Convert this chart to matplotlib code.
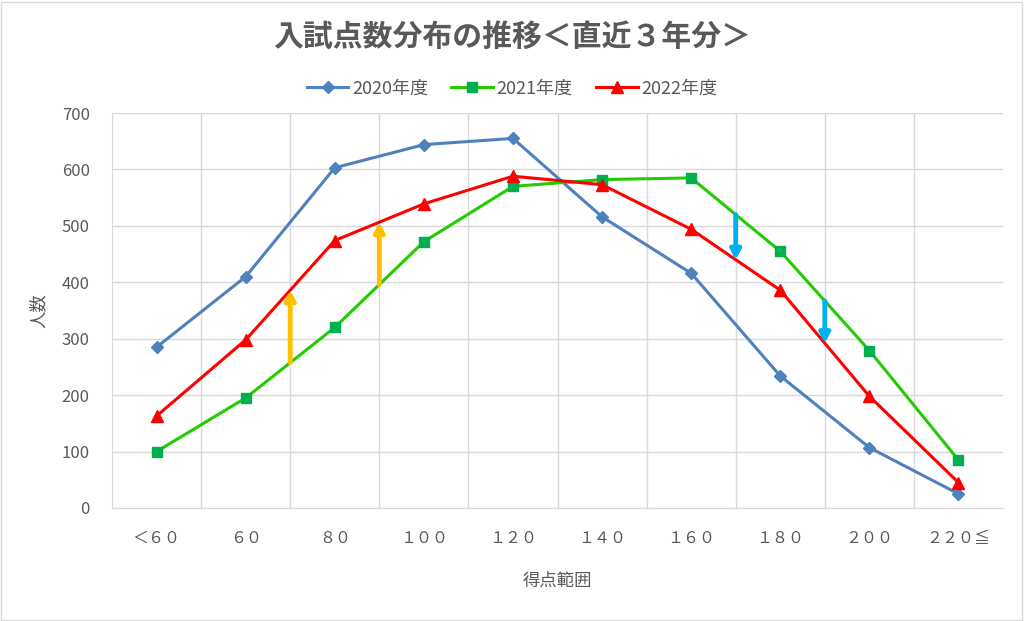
import numpy as np
import matplotlib.pyplot as plt
from matplotlib.patches import Rectangle

plt.rcParams['font.family'] = ['Noto Sans CJK JP', 'DejaVu Sans']

categories = ['＜６０', '６０', '８０', '１００', '１２０', '１４０', '１６０', '１８０', '２００', '２２０≦']
y2020 = [285, 410, 603, 644, 655, 516, 416, 234, 107, 25]
y2021 = [100, 195, 320, 472, 570, 582, 585, 455, 279, 85]
y2022 = [163, 298, 474, 539, 588, 573, 494, 386, 198, 45]

# arrows sit on the category boundaries (index i -> between i and i+1)
up_arrows = [1, 2]
down_arrows = [6, 7]

gray = '#595959'
x = np.arange(len(categories))

fig = plt.figure(figsize=(10.24, 6.21), dpi=100)
fig.patches.append(Rectangle((0.001, 0.002), 0.997, 0.995, transform=fig.transFigure,
                             fill=False, edgecolor='#d9d9d9', linewidth=1))
ax = fig.add_axes([0.1094, 0.182, 0.8701, 0.636])

ax.plot(x, y2020, color='#4f81bd', lw=2.2, marker='D', ms=6, label='2020年度', zorder=3)
ax.plot(x, y2021, color='#22cc00', lw=2.2, marker='s', ms=7, mfc='#00b050', mec='#00b050',
        label='2021年度', zorder=3)
ax.plot(x, y2022, color='#ff0000', lw=2.2, marker='^', ms=8, label='2022年度', zorder=4)


def mid(vals, i):
    return (vals[i] + vals[i + 1]) / 2


for i in up_arrows:
    ax.annotate('', xy=(i + 0.5, mid(y2022, i)), xytext=(i + 0.5, mid(y2021, i)),
                arrowprops=dict(arrowstyle='-|>,head_width=0.3,head_length=0.55',
                                color='#ffc000', lw=3.5, shrinkA=0, shrinkB=0), zorder=5)
for i in down_arrows:
    ax.annotate('', xy=(i + 0.5, mid(y2022, i)), xytext=(i + 0.5, mid(y2021, i)),
                arrowprops=dict(arrowstyle='-|>,head_width=0.3,head_length=0.55',
                                color='#00b0f0', lw=3.5, shrinkA=0, shrinkB=0), zorder=5)

ax.set_xlim(-0.5, len(categories) - 0.5)
ax.set_ylim(0, 700)
ax.set_yticks(np.arange(0, 701, 100))
ax.set_xticks(x)
ax.set_xticklabels(categories, fontsize=11.5, color=gray)
ax.set_xticks(np.arange(0.5, len(categories) - 1, 1), minor=True)
ax.tick_params(axis='y', labelsize=12, colors=gray, length=0, pad=16)
ax.tick_params(axis='x', which='both', length=0, pad=16)
ax.grid(True, axis='y', color='#d9d9d9', lw=1)
ax.grid(True, axis='x', which='minor', color='#d9d9d9', lw=1)
ax.set_axisbelow(True)
for s in ['top', 'right']:
    ax.spines[s].set_visible(False)
ax.spines['left'].set_color('#d9d9d9')
ax.spines['bottom'].set_color('#d9d9d9')

ax.set_xlabel('得点範囲', fontsize=12.5, color=gray, labelpad=18)
ax.set_ylabel('人数', fontsize=12.5, color=gray, labelpad=10)

fig.suptitle('入試点数分布の推移＜直近３年分＞', fontsize=21.5, fontweight='bold', color=gray, y=0.965)
fig.legend(loc='center', bbox_to_anchor=(0.5, 0.857), ncol=3, frameon=False, fontsize=13,
           labelcolor=gray, handlelength=2.3, columnspacing=1.3, handletextpad=0.2)

fig.savefig('out.png', dpi=100)
